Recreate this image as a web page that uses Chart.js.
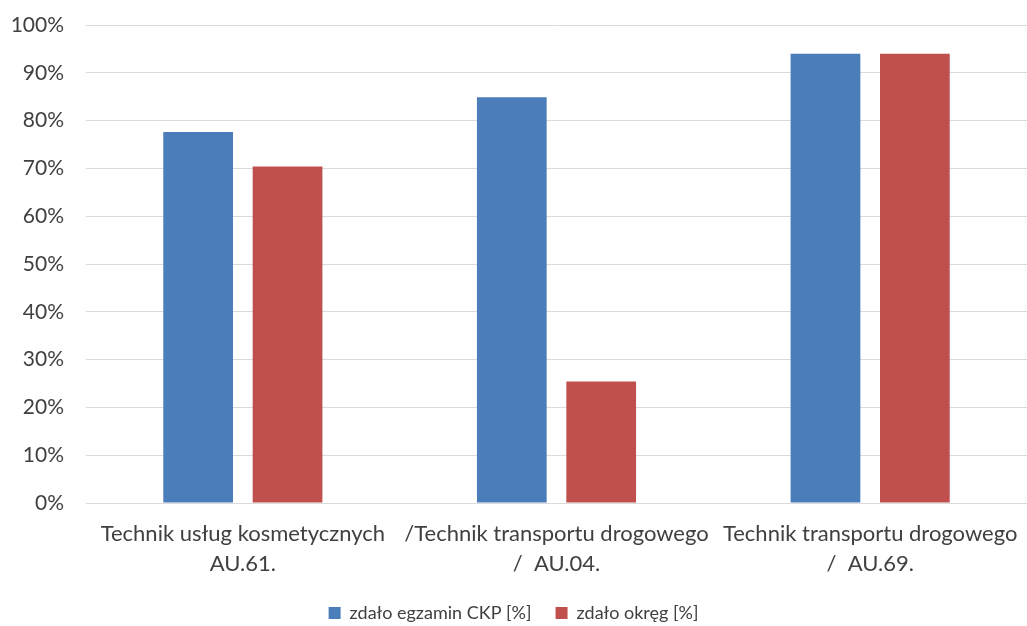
<!DOCTYPE html>
<html>
<head>
<meta charset="utf-8">
<script src="https://cdn.jsdelivr.net/npm/chart.js@4/dist/chart.umd.min.js"></script>
<style>
  html, body { margin: 0; padding: 0; background: #fff; }
  #wrap { width: 1027px; height: 626px; }
</style>
</head>
<body>
<div id="wrap"><canvas id="chart"></canvas></div>
<script>
const categories = [
    ['Technik usług kosmetycznych', 'AU.61.'],
    ['/Technik transportu drogowego', '/  AU.04.'],
    ['Technik transportu drogowego', '/  AU.69.']
];
const seriesNames = ['zdało egzamin CKP [%]', 'zdało okręg [%]'];
const ckpValues = [77.6, 84.9, 94.0];
const okregValues = [70.4, 25.4, 94.0];
const yTicks = [0, 10, 20, 30, 40, 50, 60, 70, 80, 90, 100];

const textColor = '#404040';
const family = 'Lato, "Open Sans", sans-serif';

const ctx = document.getElementById('chart').getContext('2d');
new Chart(ctx, {
    type: 'bar',
    data: {
        labels: categories,
        datasets: [
            {
                label: seriesNames[0],
                data: ckpValues,
                backgroundColor: '#4a7dba',
                barPercentage: 0.78,
                categoryPercentage: 0.57
            },
            {
                label: seriesNames[1],
                data: okregValues,
                backgroundColor: '#c0504d',
                barPercentage: 0.78,
                categoryPercentage: 0.57
            }
        ]
    },
    options: {
        responsive: true,
        maintainAspectRatio: false,
        animation: false,
        layout: { padding: { top: 25, right: 0, bottom: -6, left: 0 } },
        scales: {
            x: {
                grid: { display: false, drawTicks: false },
                border: { display: false },
                afterFit: axis => {
                    axis.height = 100;
                    axis.paddingLeft = 0;
                    axis.paddingRight = 0;
                },
                ticks: {
                    color: textColor,
                    font: { family: family, size: 22, lineHeight: 1.36 },
                    padding: 16,
                    maxRotation: 0,
                    autoSkip: false
                }
            },
            y: {
                min: 0,
                max: 100,
                afterBuildTicks: axis => { axis.ticks = yTicks.map(v => ({ value: v })); },
                afterFit: axis => {
                    axis.width = 86;
                    axis.paddingTop = 0;
                    axis.paddingBottom = 0;
                },
                grid: { color: '#dadada', lineWidth: 1, drawTicks: false },
                border: { display: false },
                ticks: {
                    color: textColor,
                    font: { family: family, size: 21 },
                    padding: 22,
                    callback: v => v + '%'
                }
            }
        },
        plugins: {
            legend: {
                position: 'bottom',
                labels: {
                    color: textColor,
                    font: { family: family, size: 18 },
                    boxWidth: 12,
                    boxHeight: 12,
                    padding: 1,
                    generateLabels: chart => {
                        const items = Chart.defaults.plugins.legend.labels.generateLabels(chart);
                        items[0].text = items[0].text + '     ';
                        return items;
                    }
                }
            },
            tooltip: { enabled: false }
        }
    }
});
</script>
</body>
</html>
